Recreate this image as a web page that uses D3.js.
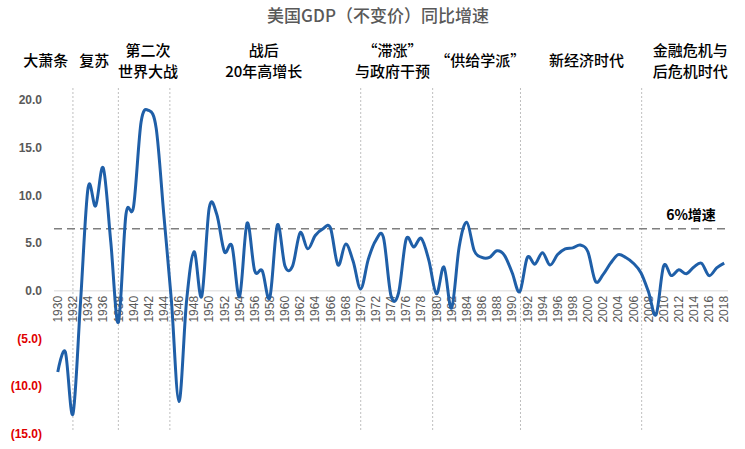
<!DOCTYPE html>
<html><head><meta charset="utf-8">
<script src="https://cdn.jsdelivr.net/npm/d3@7"></script>
<style>
html,body{margin:0;padding:0;background:#fff;}
svg{display:block;font-family:"Liberation Sans",Arial,sans-serif;}
.cjk{font-family:"Noto Sans CJK SC","Noto Sans",sans-serif;}
.xt text{font-family:"Liberation Sans",Arial,sans-serif;font-size:12px;fill:#595959;}
</style></head>
<body><svg id="c" width="745" height="449"></svg>
<script>
const years = d3.range(1930, 2019);
const growth = [-8.5,-6.4,-12.9,-1.2,10.8,8.9,12.9,5.1,-3.3,8.0,
  8.8,17.7,18.9,17.0,8.0,-1.0,-11.6,-1.1,4.1,-0.6,
  8.7,8.0,4.1,4.7,-0.6,7.1,2.1,2.1,-0.7,6.9,
  2.6,2.6,6.1,4.4,5.8,6.5,6.6,2.7,4.9,3.1,
  0.2,3.3,5.3,5.6,-0.5,-0.2,5.4,4.6,5.5,3.2,
  -0.3,2.5,-1.8,4.6,7.2,4.2,3.5,3.5,4.2,3.7,
  1.9,-0.1,3.5,2.8,4.0,2.7,3.8,4.4,4.5,4.8,
  4.1,1.0,1.7,2.9,3.8,3.5,2.9,1.9,-0.1,-2.5,
  2.6,1.6,2.2,1.8,2.5,2.9,1.6,2.4,2.9];
const yTicks = [20,15,10,5,0,-5,-10,-15];
const refLevel = 6.5;
const refLabel = "6%增速";
const dividerYears = [1932,1938,1944.8,1970,1979.5,1991.1,2007.1];
const eraLines = [["大萧条"],["复苏"],["第二次","世界大战"],["战后","20年高增长"],["“滞涨”","与政府干预"],["“供给学派”"],["新经济时代"],["金融危机与","后危机时代"]];
const eraCenters = [1928.4,1934.8,1941.9,1957.2,1974.2,1985.8,1999.8,2013.5];
const title = "美国GDP（不变价）同比增速";

const svg = d3.select("#c");
const x = d3.scaleBand().domain(years).range([54,728]);
const xc = d3.scaleLinear().domain([1930,2018]).range([54+x.bandwidth()/2, 54+x.bandwidth()*88.5]);
const y = d3.scaleLinear().domain([-15,20]).range([434,100]);

svg.append("text").attr("class","cjk").attr("x",378).attr("y",22).attr("text-anchor","middle")
  .attr("font-size",17).attr("font-weight",500).attr("fill","#595959").text(title);

// era labels
eraLines.forEach((lines,i)=>{
  const cx = xc(eraCenters[i]);
  const t = svg.append("text").attr("class","cjk").attr("text-anchor","middle")
    .attr("font-size",15).attr("font-weight",500).attr("fill","#000");
  const y0 = lines.length===1 ? 66 : 56;
  lines.forEach((s,j)=>t.append("tspan").attr("x",cx).attr("y",y0+j*21).text(s));
});

// dividers
svg.append("g").selectAll("line").data(dividerYears).join("line")
  .attr("x1",d=>xc(d)).attr("x2",d=>xc(d)).attr("y1",88).attr("y2",430)
  .attr("stroke","#bfbfbf").attr("stroke-width",1).attr("stroke-dasharray","2,2");

// zero axis
svg.append("line").attr("x1",54).attr("x2",728).attr("y1",y(0)).attr("y2",y(0))
  .attr("stroke","#d9d9d9").attr("stroke-width",1);

// y ticks
svg.append("g").selectAll("text").data(yTicks).join("text")
  .attr("x",42).attr("y",d=>y(d)).attr("dy","0.35em").attr("text-anchor","end")
  .attr("font-size",12).attr("font-weight","bold")
  .attr("fill",d=>d<0?"#e00000":"#595959")
  .text(d=>d<0?"("+d3.format(".1f")(-d)+")":d3.format(".1f")(d));

// x ticks
const xAxis = d3.axisBottom(x).tickValues(years.filter(d=>d%2===0)).tickSize(0).tickPadding(0);
const gx = svg.append("g").attr("class","xt").attr("transform",`translate(0,${y(0)})`).call(xAxis);
gx.select(".domain").remove();
gx.selectAll("text").attr("transform","rotate(-90)").attr("text-anchor","end")
  .attr("x",-5).attr("y",0).attr("dy","0.35em");

// reference dashed line
svg.append("line").attr("x1",54).attr("x2",728).attr("y1",y(refLevel)).attr("y2",y(refLevel))
  .attr("stroke","#7f7f7f").attr("stroke-width",1.5).attr("stroke-dasharray","8,5");
svg.append("text").attr("class","cjk").attr("x",691).attr("y",220).attr("text-anchor","middle")
  .attr("font-size",14).attr("font-weight","bold").attr("fill","#000").text(refLabel);

// line
const line = d3.line().x((d,i)=>x(years[i])+x.bandwidth()/2).y(d=>y(d)).curve(d3.curveCardinal.tension(0));
svg.append("path").datum(growth).attr("d",line).attr("fill","none")
  .attr("stroke","#1f5fa8").attr("stroke-width",3).attr("stroke-linejoin","round");
</script></body></html>
